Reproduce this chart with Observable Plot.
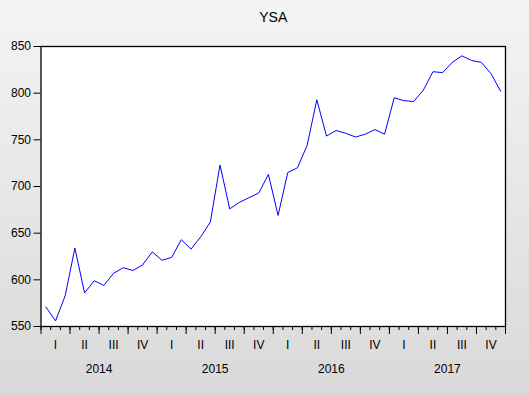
<!DOCTYPE html>
<html>
<head>
<meta charset="utf-8">
<script src="https://cdn.jsdelivr.net/npm/d3@7"></script>
<script src="https://cdn.jsdelivr.net/npm/@observablehq/plot@0.6"></script>
<style>
html, body { margin: 0; padding: 0; }
body { width: 529px; height: 395px; background: linear-gradient(#f4f4f4, #d9d9d9); overflow: hidden; font-family: "Liberation Sans", Arial, sans-serif; }
</style>
</head>
<body>
<div id="chart"></div>
<script>
const title = "YSA";
const years = ["2014", "2015", "2016", "2017"];
const quarterLabels = ["I", "II", "III", "IV"];
const ysa = [
  571, 556, 583, 634, 586, 599, 594, 607, 613, 610, 616, 630,
  621, 624, 643, 633, 646, 662, 723, 676, 683, 688, 693, 713,
  669, 715, 720, 744, 793, 754, 760, 757, 753, 756, 761, 756,
  795, 792, 791, 803, 823, 822, 833, 840, 835, 833, 821, 802
];
const yTicks = [550, 600, 650, 700, 750, 800, 850];

const data = ysa.map((v, i) => ({i: i + 0.5, v}));
const nMonths = ysa.length;
const monthTicks = d3.range(0, nMonths + 1);
const quarterTicks = d3.range(0, nMonths + 1, 3);
const quarterCenters = d3.range(1.5, nMonths, 3);
const yearCenters = years.map((y, k) => k * 12 + 6);

const font = "Liberation Sans, Arial, sans-serif";

const chart = Plot.plot({
  width: 529,
  height: 395,
  marginLeft: 40.5,
  marginRight: 24,
  marginTop: 46,
  marginBottom: 69,
  style: {background: "transparent", fontFamily: font, fontSize: "12px", color: "black"},
  x: {domain: [0, nMonths], axis: null},
  y: {domain: [550, 850], axis: null},
  marks: [
    Plot.frame({fill: "white", stroke: null}),
    Plot.axisY({ticks: yTicks, tickSize: 7, tickPadding: 3, fontSize: 12, label: null, stroke: "black"}),
    Plot.axisX({ticks: monthTicks, tickSize: 4, tickFormat: () => "", label: null}),
    Plot.axisX({ticks: quarterTicks, tickSize: 8, tickFormat: () => "", label: null}),
    Plot.axisX({ticks: quarterCenters, tickSize: 0, tickPadding: 14, fontSize: 12,
      tickFormat: (d) => quarterLabels[Math.floor(d / 3) % 4], label: null}),
    Plot.axisX({ticks: yearCenters, tickSize: 0, tickPadding: 38, fontSize: 12,
      tickFormat: (d) => years[Math.floor(d / 12)], label: null}),
    Plot.line(data, {x: "i", y: "v", stroke: "#0000ff", strokeWidth: 1}),
    Plot.frame({stroke: "black", strokeWidth: 1.3}),
    Plot.text([title], {frameAnchor: "top", lineAnchor: "bottom", dy: -25, text: d => d, fontSize: 14, fill: "black"})
  ]
});
document.getElementById("chart").appendChild(chart);
</script>
</body>
</html>
